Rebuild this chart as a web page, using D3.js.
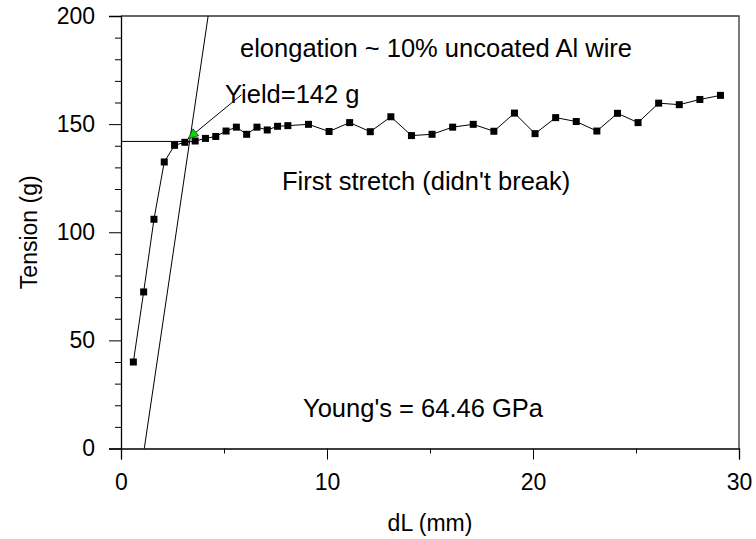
<!DOCTYPE html>
<html><head><meta charset="utf-8">
<script src="https://cdn.jsdelivr.net/npm/d3@7"></script>
<style>
html,body{margin:0;padding:0;background:#fff;}
text{font-family:Arial,"Liberation Sans",sans-serif;fill:#000;}
</style></head>
<body>
<svg id="chart" width="756" height="539"></svg>
<script>
// ---- data ----
const dL = [0.6,1.1,1.6,2.1,2.6,3.1,3.6,4.1,4.6,5.1,5.6,6.1,6.6,7.1,7.6,8.1,9.1,10.1,11.1,12.1,13.1,14.1,15.1,16.1,17.1,18.1,19.1,20.1,21.1,22.1,23.1,24.1,25.1,26.1,27.1,28.1,29.1];
const tension = [40,72.4,106,132.5,140.2,141.6,142.2,143.4,144.3,146.8,148.6,145.3,148.6,147.3,149,149.3,149.9,146.6,150.7,146.5,153.4,144.7,145.3,148.6,149.9,146.7,155.1,145.6,153,151.2,146.8,155,150.7,159.7,159,161.4,163.3];
const youngLine = [[1.13,0],[4.23,200]];
const yieldLine = [[0,142],[3.33,142]];
const yieldArrow = [[5.85,163.6],[3.26,143.3]];
const xTicks = [0,10,20,30];
const xMinor = [5,15,25];
const yTicks = [0,50,100,150,200];
const yMinor = [10,20,30,40,60,70,80,90,110,120,130,140,160,170,180,190];
const labels = {
  x: "dL (mm)", y: "Tension (g)",
  title: "elongation ~ 10% uncoated Al wire",
  yieldTxt: "Yield=142 g",
  stretch: "First stretch (didn't break)",
  young: "Young's = 64.46 GPa"
};

// ---- layout ----
const W = 756, H = 539;
const m = {left:121, right:17, top:16, bottom:90.5};
const svg = d3.select("#chart");
const x = d3.scaleLinear().domain([0,30]).range([m.left, W-m.right]);
const y = d3.scaleLinear().domain([0,200]).range([H-m.bottom, m.top]);
const FS = 23, FA = 25.5;

// frame (top/right)
svg.append("path")
  .attr("d", `M${x(0)},${y(200)}H${x(30)}V${y(0)}`)
  .attr("fill","none").attr("stroke","#333").attr("stroke-width",1.3);

// axes
const xAxis = d3.axisBottom(x).tickValues(xTicks).tickSize(11).tickPadding(14).tickFormat(d3.format("d"));
const gx = svg.append("g").attr("transform",`translate(0,${y(0)})`).call(xAxis);
gx.selectAll("text").style("font-size",FS+"px");
const gxm = svg.append("g").attr("transform",`translate(0,${y(0)})`)
  .call(d3.axisBottom(x).tickValues(xMinor).tickSize(5).tickFormat(""));
gxm.select(".domain").remove();

const yAxis = d3.axisLeft(y).tickValues(yTicks).tickSize(12).tickPadding(14).tickFormat(d3.format("d"));
const gy = svg.append("g").attr("transform",`translate(${x(0)},0)`).call(yAxis);
gy.selectAll("text").style("font-size",FS+"px");
const gym = svg.append("g").attr("transform",`translate(${x(0)},0)`)
  .call(d3.axisLeft(y).tickValues(yMinor).tickSize(6).tickFormat(""));
gym.select(".domain").remove();
svg.selectAll(".domain").attr("stroke","#000").attr("stroke-width",1.3);
svg.selectAll(".tick line").attr("stroke","#000");

// axis titles
svg.append("text").attr("x", (x(0)+x(30))/2).attr("y", 531)
  .attr("text-anchor","middle").style("font-size",FS+"px").text(labels.x);
svg.append("text").attr("transform",`translate(37,${(y(0)+y(200))/2}) rotate(-90)`)
  .attr("text-anchor","middle").style("font-size",FS+"px").text(labels.y);

const line = d3.line().x(d=>x(d[0])).y(d=>y(d[1]));

// Young's modulus fit line & yield line
svg.append("path").attr("d", line(youngLine)).attr("fill","none").attr("stroke","#000").attr("stroke-width",1);
svg.append("path").attr("d", line(yieldLine)).attr("fill","none").attr("stroke","#000").attr("stroke-width",1);

// data line + markers
const pts = dL.map((d,i)=>[d,tension[i]]);
svg.append("path").attr("d", line(pts)).attr("fill","none").attr("stroke","#000").attr("stroke-width",1);
svg.append("g").selectAll("rect").data(pts).join("rect")
  .attr("x", d=>x(d[0])-3.5).attr("y", d=>y(d[1])-3.5)
  .attr("width",7).attr("height",7).attr("fill","#000");

// yield arrow
svg.append("path").attr("d", line(yieldArrow)).attr("stroke","#000").attr("stroke-width",1);
{
  const [x1,y1] = [x(yieldArrow[0][0]), y(yieldArrow[0][1])];
  const [x2,y2] = [x(yieldArrow[1][0]), y(yieldArrow[1][1])];
  const ang = Math.atan2(y2-y1, x2-x1);
  const L = 10, Wd = 4.5;
  const bx = x2 - L*Math.cos(ang), by = y2 - L*Math.sin(ang);
  const px = -Math.sin(ang)*Wd, py = Math.cos(ang)*Wd;
  svg.append("path").attr("d", `M${x2},${y2}L${bx+px},${by+py}L${bx-px},${by-py}Z`)
    .attr("fill","#00e000").attr("stroke","#000").attr("stroke-width",0.6);
}

// annotations
svg.append("text").attr("x",240).attr("y",57).style("font-size",FA+"px").text(labels.title);
svg.append("text").attr("x",225).attr("y",103).style("font-size",FA+"px").text(labels.yieldTxt);
svg.append("text").attr("x",282).attr("y",190).style("font-size",FA+"px").text(labels.stretch);
svg.append("text").attr("x",303).attr("y",417).style("font-size",FA+"px").text(labels.young);
</script>
</body></html>
